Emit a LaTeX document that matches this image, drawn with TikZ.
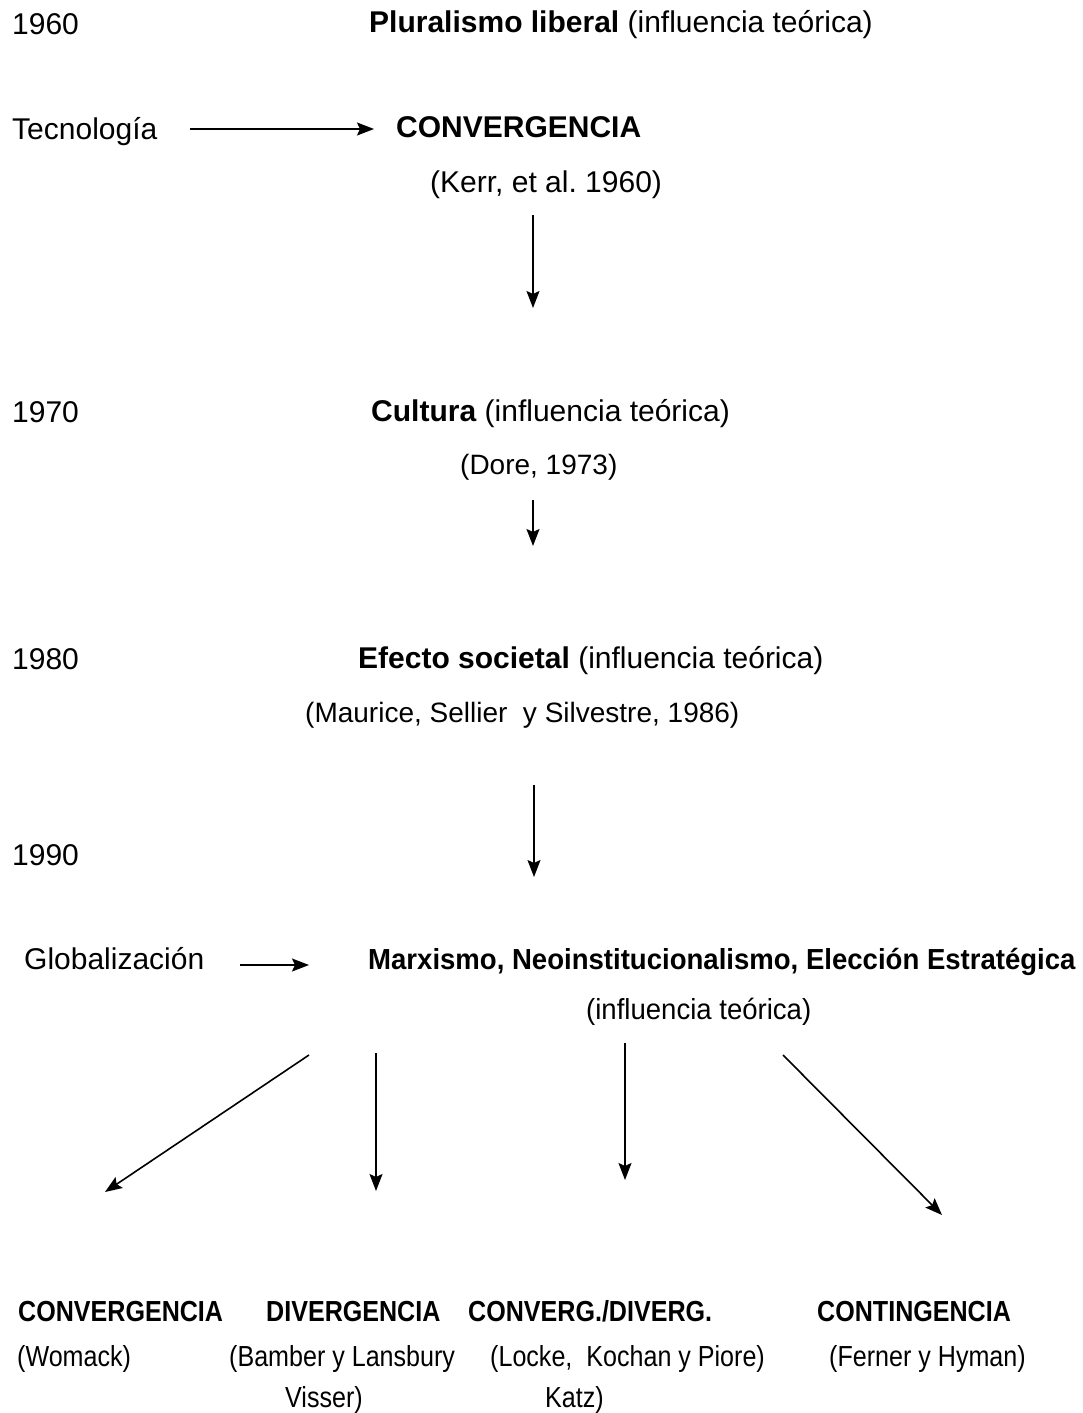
\documentclass[tikz,border=0pt]{standalone}
\usepackage{fontspec}
\setmainfont{Liberation Sans}
\newfontfamily\midfont{Liberation Sans}[FakeStretch=0.95]
\newfontfamily\narrowfont{Liberation Sans}[FakeStretch=0.865]
\usetikzlibrary{arrows.meta}
\tikzset{
  base/.style={anchor=west, inner sep=0pt, text height=0.74em, text depth=0.21em, yshift=-7pt},
  lbl/.style={base, font=\fontsize{30}{36}\selectfont},
  sublbl/.style={base, font=\fontsize{28}{33}\selectfont},
  mlbl/.style={base, font=\midfont\fontsize{29}{34}\selectfont},
  nlbl/.style={base, font=\narrowfont\fontsize{29}{34}\selectfont},
  flow/.style={line width=1.6pt, -{Stealth[length=17pt,width=13pt,inset=3pt]}},
}
\begin{document}
\frenchspacing
\begin{tikzpicture}[x=1pt,y=-1pt]
\useasboundingbox (0,0) rectangle (1083,1413);

% years
\node[lbl] (y60) at (12,25) {1960};
\node[lbl] (y70) at (12,413) {1970};
\node[lbl] (y80) at (12,660) {1980};
\node[lbl] (y90) at (12,856) {1990};

% 1960
\node[lbl] (plural) at (369,23) {\textbf{Pluralismo liberal} (influencia teórica)};
\node[lbl] (tec) at (12,130) {Tecnología};
\node[lbl] (conv) at (396,128) {\textbf{CONVERGENCIA}};
\node[lbl] (kerr) at (430,183) {(Kerr, et al. 1960)};
\coordinate (tecR) at (190,129);
\coordinate (convL) at (374,129);
\draw[flow] (tecR) -- (convL);
\coordinate (k1) at (533,215);
\coordinate (k2) at (533,308);
\draw[flow] (k1) -- (k2);

% 1970
\node[lbl] (cult) at (371,412) {\textbf{Cultura} (influencia teórica)};
\node[sublbl] (dore) at (460,465) {(Dore, 1973)};
\coordinate (d1) at (533,500);
\coordinate (d2) at (533,546);
\draw[flow] (d1) -- (d2);

% 1980
\node[lbl] (soc) at (358,659) {\textbf{Efecto societal} (influencia teórica)};
\node[sublbl] (maur) at (305,713) {(Maurice, Sellier\ \ y Silvestre, 1986)};
\coordinate (m1) at (534,785);
\coordinate (m2) at (534,877);
\draw[flow] (m1) -- (m2);

% 1990
\node[lbl] (glob) at (24,960) {Globalización};
\coordinate (g1) at (240,965);
\coordinate (g2) at (309,965);
\draw[flow] (g1) -- (g2);
\node[mlbl] (marx) at (368,960) {\textbf{Marxismo, Neoinstitucionalismo, Elección Estratégica}};
\node[mlbl] (infl) at (586,1010) {(influencia teórica)};

% branches
\coordinate (b1s) at (309,1055);
\coordinate (b1e) at (105,1192);
\coordinate (b2s) at (376,1053);
\coordinate (b2e) at (376,1191);
\coordinate (b3s) at (625,1043);
\coordinate (b3e) at (625,1180);
\coordinate (b4s) at (783,1055);
\coordinate (b4e) at (942,1215);
\draw[flow] (b1s) -- (b1e);
\draw[flow] (b2s) -- (b2e);
\draw[flow] (b3s) -- (b3e);
\draw[flow] (b4s) -- (b4e);

% outcomes
\node[nlbl] (o1) at (18,1312) {\textbf{CONVERGENCIA}};
\node[nlbl] (o2) at (266,1312) {\textbf{DIVERGENCIA}};
\node[nlbl] (o3) at (468,1312) {\textbf{CONVERG./DIVERG.}};
\node[nlbl] (o4) at (817,1312) {\textbf{CONTINGENCIA}};
\node[nlbl] (r1) at (17,1357) {(Womack)};
\node[nlbl] (r2) at (229,1357) {(Bamber y Lansbury};
\node[nlbl] (r3) at (490,1357) {(Locke,\ \ Kochan y Piore)};
\node[nlbl] (r4) at (829,1357) {(Ferner y Hyman)};
\node[nlbl] (r2b) at (285,1398) {Visser)};
\node[nlbl] (r3b) at (545,1398) {Katz)};
\end{tikzpicture}
\end{document}
